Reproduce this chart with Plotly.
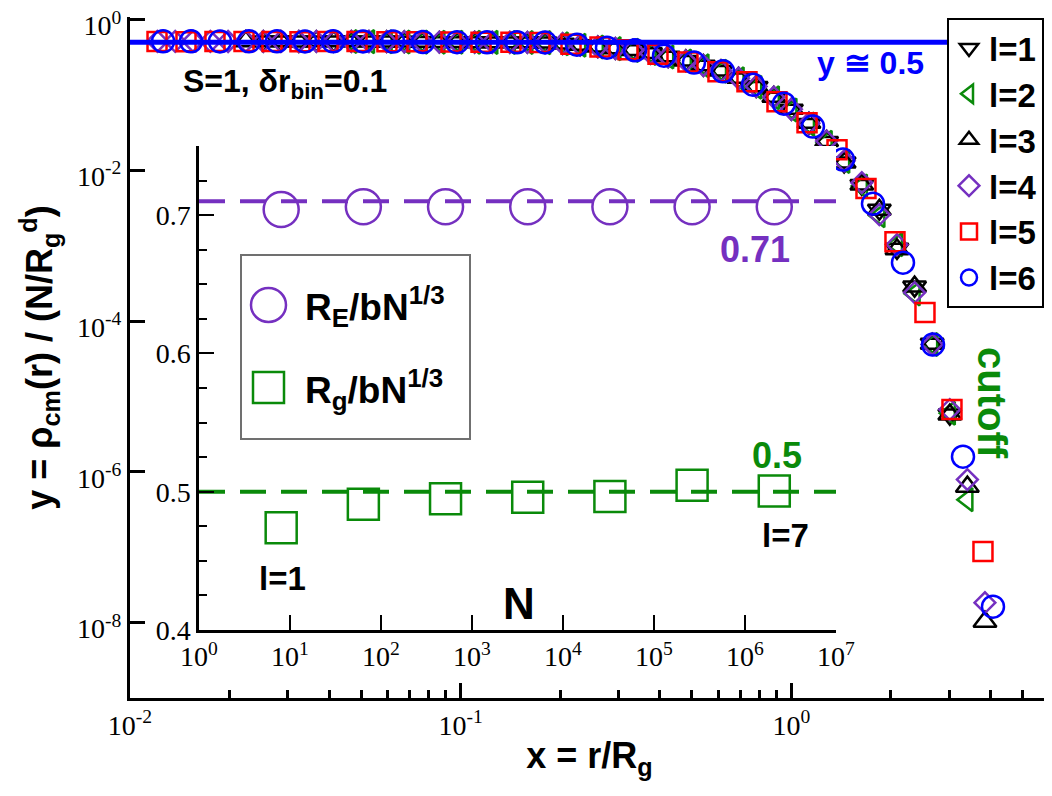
import plotly.graph_objects as go

# ---- data: main panel, y = rho_cm(r)/(N/Rg^d) vs x = r/Rg ----
# shared radial grid used by l=1..4 (ascending)
x_grid = [0.0121, 0.0137, 0.0155, 0.0175, 0.0198, 0.0224, 0.0253, 0.0286, 0.0324, 0.0366,
          0.0413, 0.0467, 0.0528, 0.0597, 0.0675, 0.0763, 0.0862, 0.0975, 0.1102, 0.1246,
          0.1408, 0.1591, 0.1799, 0.2033, 0.2298, 0.2598, 0.2936, 0.3319, 0.3752, 0.4241,
          0.4794, 0.5419, 0.6125, 0.6923, 0.7826, 0.8847, 1.000, 1.130, 1.278, 1.444,
          1.633, 1.845, 2.086, 2.358, 2.665, 3.013, 3.405, 3.849]

y_l1 = [0.512, 0.514, 0.511, 0.513, 0.512, 0.514, 0.512,
        0.511, 0.507, 0.504, 0.502, 0.501, 0.500, 0.499, 0.499, 0.498, 0.497, 0.479, 0.459,
        0.435, 0.413, 0.392, 0.357, 0.321, 0.283, 0.245, 0.208, 0.165, 0.128, 0.0922, 0.0637,
        0.0414, 0.0238,
        0.0127, 0.0064, 0.0030, 9.1e-4, 2.87e-4, 5.0e-5, 5.75e-6]

y_l2 = [0.513, 0.511,
        0.510, 0.506, 0.503, 0.502, 0.501, 0.500, 0.499, 0.498, 0.498, 0.496, 0.478, 0.458,
        0.434, 0.412, 0.391, 0.356, 0.320, 0.282, 0.244, 0.207, 0.164, 0.127, 0.0918, 0.0633,
        0.0411, 0.0236,
        0.0131, 0.0062, 0.0025, 1.035e-3, 2.3e-4, 4.9e-5, 6.0e-6, 4.28e-7]

y_l3 = [0.518, 0.515, 0.517, 0.514, 0.516, 0.515, 0.517, 0.514,
        0.514, 0.511, 0.508, 0.506, 0.504, 0.503, 0.502, 0.501, 0.500, 0.498, 0.483, 0.463,
        0.440, 0.417, 0.396, 0.361, 0.326, 0.288, 0.249, 0.212, 0.169, 0.131, 0.0945, 0.0655,
        0.0428, 0.0246,
        0.0127, 0.0065, 0.0030, 9.0e-4, 2.87e-4, 5.0e-5, 5.75e-6, 6.37e-7, 1.03e-8]

y_l4 = [0.516, 0.514, 0.517, 0.515, 0.513, 0.516, 0.514, 0.515, 0.513, 0.516, 0.514, 0.515, 0.513,
        0.512, 0.509, 0.506, 0.504, 0.503, 0.502, 0.501, 0.500, 0.499, 0.496, 0.480, 0.458,
        0.436, 0.414, 0.392, 0.358, 0.322, 0.284, 0.246, 0.209, 0.167, 0.130, 0.0935, 0.0648,
        0.0423, 0.0245,
        0.0134, 0.00687, 0.00259, 1.035e-3, 2.39e-4, 4.9e-5, 6.7e-6, 7.9e-7, 1.84e-8]

x_l5 = [0.01207, 0.01477, 0.01807, 0.02212, 0.02688, 0.03266, 0.03970, 0.04859, 0.05984, 0.07377,
        0.09348, 0.1152, 0.1419, 0.1737, 0.2156, 0.2638, 0.3206, 0.3950, 0.4867, 0.5998,
        0.7340, 0.9046, 1.115, 1.374, 1.681, 2.057, 2.535, 3.059, 3.796]
y_l5 = [0.512, 0.510, 0.513, 0.511, 0.512, 0.510, 0.512, 0.511, 0.510, 0.508,
        0.505, 0.503, 0.501, 0.499, 0.473, 0.434, 0.400, 0.348, 0.275, 0.204,
        0.1505, 0.0817, 0.043, 0.0188, 0.00573, 0.00113, 1.30e-4, 6.7e-6, 8.75e-8]

x_l6 = [0.01259, 0.01529, 0.01871, 0.02291, 0.02782, 0.03382, 0.04111, 0.05065, 0.06242, 0.07691,
        0.09745, 0.1201, 0.1480, 0.1799, 0.2247, 0.2769, 0.3366, 0.4119, 0.5075, 0.6212,
        0.7655, 0.9497, 1.162, 1.432, 1.765, 2.175, 2.681, 3.303, 4.070]
y_l6 = [0.515, 0.515, 0.514, 0.515, 0.515, 0.514, 0.515, 0.514, 0.513, 0.505,
        0.502, 0.500, 0.500, 0.499, 0.466, 0.425, 0.392, 0.333, 0.269, 0.206,
        0.137, 0.0768, 0.0381, 0.0139, 0.00362, 5.97e-4, 4.88e-5, 1.59e-6, 1.63e-8]

plateau = 0.5

# ---- data: inset, size ratios vs N ----
N_vals = [8, 64, 512, 4096, 32768, 262144, 2097152]
RE_ratio = [0.704, 0.706, 0.706, 0.706, 0.706, 0.706, 0.706]
Rg_ratio = [0.474, 0.491, 0.495, 0.496, 0.4965, 0.5046, 0.5005]
RE_level = 0.71
Rg_level = 0.5
N_span = [1, 1e7]

# ---- styling ----
SANS = 'Liberation Sans, Arial, sans-serif'
SERIF = 'Liberation Serif, Times New Roman, serif'
PURPLE = '#7530c0'
GREEN = '#0a8a0a'
BLUE = '#0000ff'
RED = '#ff0000'

# page body adds an 8px margin, so the figure is shrunk by that much
PAGE_OFF = 8
WIDTH, HEIGHT = 1052 - PAGE_OFF, 796 - PAGE_OFF

# plot area in screen pixels (left, right, top, bottom)
L, R, T, B = 130, 1049, 17, 698


def px(x):
    return (x - L) / (R - L)


def py(y):
    return (B - y) / (B - T)


fig = go.Figure()

# inset reference levels (dashed)
for level, col in [(RE_level, PURPLE), (Rg_level, GREEN)]:
    fig.add_trace(go.Scatter(
        x=N_span, y=[level, level], mode='lines', showlegend=False, hoverinfo='skip',
        line=dict(color=col, width=4, dash='26px,15px'),
        xaxis='x2', yaxis='y2'
    ))

fig.add_trace(go.Scatter(
    x=N_vals, y=RE_ratio, mode='markers', showlegend=False,
    marker=dict(symbol='circle-open', size=35, color=PURPLE, line=dict(color=PURPLE, width=2.5)),
    xaxis='x2', yaxis='y2'
))
fig.add_trace(go.Scatter(
    x=N_vals, y=Rg_ratio, mode='markers', showlegend=False,
    marker=dict(symbol='square-open', size=31, color=GREEN, line=dict(color=GREEN, width=2.5)),
    xaxis='x2', yaxis='y2'
))

series = [
    ('l=1', x_grid[6:46], y_l1, 'triangle-down-open', 'black', 20),
    ('l=2', x_grid[11:47], y_l2, 'triangle-left-open', GREEN, 20),
    ('l=3', x_grid[5:48], y_l3, 'triangle-up-open', 'black', 20),
    ('l=4', x_grid, y_l4, 'diamond-open', PURPLE, 16),
    ('l=5', x_l5, y_l5, 'square-open', RED, 19),
    ('l=6', x_l6, y_l6, 'circle-open', BLUE, 22),
]
for name, xs, ys, sym, col, size in series:
    fig.add_trace(go.Scatter(
        x=xs, y=ys, mode='markers', name=name,
        marker=dict(symbol=sym, size=size, color=col, line=dict(color=col, width=2.5)),
        xaxis='x', yaxis='y'
    ))

shapes = [
    # y ~ 0.5 plateau line
    dict(type='line', xref='x domain', yref='y', x0=0, x1=1, y0=plateau, y1=plateau,
         line=dict(color=BLUE, width=5), layer='above'),
    # inset legend box and its symbols
    dict(type='rect', xref='paper', yref='paper', x0=px(241), x1=px(470), y0=py(439), y1=py(255),
         line=dict(color='#707070', width=2)),
    dict(type='circle', xref='paper', yref='paper', x0=px(251), x1=px(286), y0=py(322), y1=py(288),
         line=dict(color=PURPLE, width=2.5)),
    dict(type='rect', xref='paper', yref='paper', x0=px(253), x1=px(284), y0=py(403), y1=py(372),
         line=dict(color=GREEN, width=2.5)),
]


def label(text, x, y, size, color='black', xanchor='center', **kw):
    return dict(text=text, x=px(x), y=py(y), xref='paper', yref='paper', showarrow=False,
                xanchor=xanchor, yanchor='middle',
                font=dict(family=SANS, size=size, color=color), **kw)


annotations = [
    label('<b>S=1, δr<sub>bin</sub>=0.1</b>', 285, 84, 32),
    label('<b>y ≅ 0.5</b>', 870, 63, 32, BLUE),
    label('<b>0.71</b>', 755, 249, 36, PURPLE),
    label('<b>0.5</b>', 777, 455, 36, GREEN),
    label('<b>l=7</b>', 785, 535, 33),
    label('<b>l=1</b>', 282, 578, 33),
    label('<b>N</b>', 519, 603, 44),
    label('<b>cutoff</b>', 992, 403, 40, GREEN, textangle=90),
    label('<b>R<sub>E</sub>/bN<sup>1/3</sup></b>', 303, 306, 37, xanchor='left'),
    label('<b>R<sub>g</sub>/bN<sup>1/3</sup></b>', 303, 389, 37, xanchor='left'),
]

tickfont = dict(family=SERIF, size=28, color='black')
main_minor_x = [0.02, 0.03, 0.04, 0.05, 0.06, 0.07, 0.08, 0.09,
                0.2, 0.3, 0.4, 0.5, 0.6, 0.7, 0.8, 0.9, 2, 3, 4, 5, 6]

fig.update_layout(
    width=WIDTH, height=HEIGHT,
    margin=dict(l=L - PAGE_OFF, r=1052 - R, t=T - PAGE_OFF, b=796 - B, autoexpand=False),
    paper_bgcolor='white', plot_bgcolor='white',
    shapes=shapes, annotations=annotations,
    legend=dict(
        x=px(947), y=py(18), xanchor='left', yanchor='top',
        bgcolor='white', bordercolor='black', borderwidth=2,
        font=dict(family=SANS, size=33, color='black', weight='bold'),
        itemsizing='trace', tracegroupgap=0
    ),
    xaxis=dict(
        type='log', range=[-2, 0.779], domain=[0, 1], anchor='y', automargin=False,
        showline=True, linecolor='black', linewidth=3, mirror=False,
        showgrid=False, zeroline=False,
        ticks='inside', ticklen=15, tickwidth=2.5, tickcolor='black',
        tickvals=[0.01, 0.1, 1],
        ticktext=['10<sup>-2</sup>', '10<sup>-1</sup>', '10<sup>0</sup>'],
        tickfont=tickfont, ticklabeloverflow='allow',
        minor=dict(tickvals=main_minor_x, ticks='inside', ticklen=8, tickwidth=2.5,
                   tickcolor='black', showgrid=False),
        title=dict(text='<b>x = r/R<sub>g</sub></b>', font=dict(family=SANS, size=36, color='black'),
                   standoff=4),
    ),
    yaxis=dict(
        type='log', range=[-9, 0.035], domain=[0, 1], anchor='x', automargin=False,
        showline=True, linecolor='black', linewidth=3, mirror=False,
        showgrid=False, zeroline=False,
        ticks='inside', ticklen=15, tickwidth=2.5, tickcolor='black',
        tickvals=[1, 1e-2, 1e-4, 1e-6, 1e-8],
        ticktext=['10<sup>0</sup>', '10<sup>-2</sup>', '10<sup>-4</sup>', '10<sup>-6</sup>', '10<sup>-8</sup>'],
        tickfont=tickfont, ticklabeloverflow='allow', ticklabelshift=6,
        title=dict(text='<b>y = ρ<sub>cm</sub>(r) / (N/R<sub>g</sub><sup>d</sup>)</b>',
                   font=dict(family=SANS, size=36, color='black'), standoff=14),
    ),
    xaxis2=dict(
        type='log', range=[0, 7], domain=[px(199), px(836)], anchor='y2', automargin=False,
        showline=True, linecolor='black', linewidth=2.5,
        showgrid=False, zeroline=False,
        ticks='inside', ticklen=15, tickwidth=2, tickcolor='black',
        tickvals=[1, 10, 100, 1e3, 1e4, 1e5, 1e6, 1e7],
        ticktext=['10<sup>%d</sup>' % k for k in range(8)],
        tickfont=tickfont,
    ),
    yaxis2=dict(
        range=[0.4, 0.75], domain=[py(630), py(146)], anchor='x2', automargin=False,
        showline=True, linecolor='black', linewidth=2.5,
        showgrid=False, zeroline=False,
        ticks='inside', ticklen=15, tickwidth=2, tickcolor='black',
        tickvals=[0.4, 0.5, 0.6, 0.7], ticktext=['0.4', '0.5', '0.6', '0.7'],
        tickfont=tickfont,
        minor=dict(dtick=0.025, tick0=0.4, ticks='inside', ticklen=8, tickwidth=2,
                   tickcolor='black', showgrid=False),
    ),
)

fig.write_html("out.html")
